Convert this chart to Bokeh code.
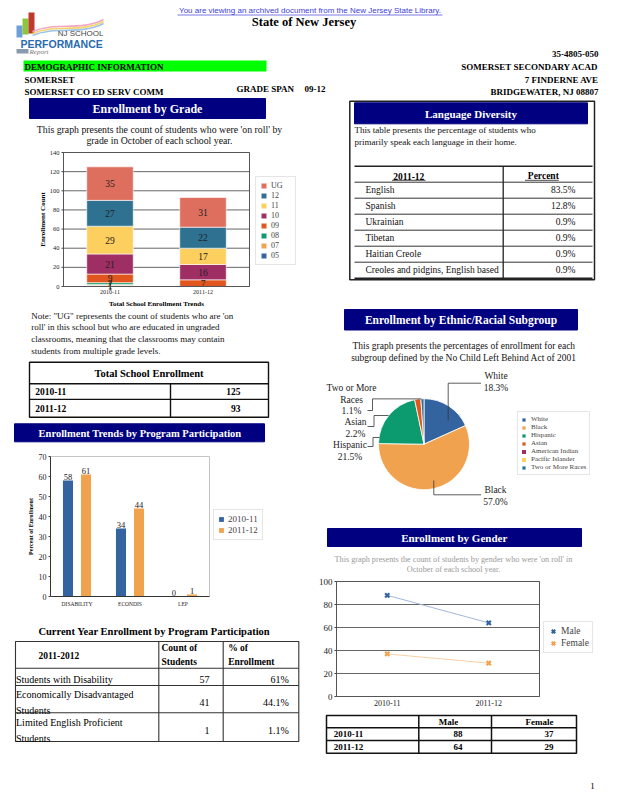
import numpy as np
from math import pi
from bokeh.plotting import figure
from bokeh.models import Range1d, ColumnDataSource, Legend, LegendItem
from bokeh.transform import stack
from bokeh.core.properties import value
from bokeh.embed import file_html
from bokeh.resources import INLINE

SERIF = "Liberation Serif"
SANS = "Liberation Sans"
NAVY = "#000080"

# ---------------- data ----------------
years = ["2010-11", "2011-12"]
grades = ["05", "07", "08", "09", "10", "11", "12", "UG"]
grade_colors = ["#3464A0", "#F0A24F", "#0C9A6F", "#E0561E", "#9E2E64", "#FDCF5E", "#2E7191", "#DE6E5E"]
grade_2010 = [1, 1, 2, 9, 21, 29, 27, 35]
grade_2011 = [0, 0, 0, 7, 16, 17, 22, 31]
grade_ticks = [0, 20, 40, 60, 80, 100, 120, 140]
total_enrollment = [125, 93]

programs = ["DISABILITY", "ECONDIS", "LEP"]
program_2010 = [58, 34, 0]
program_2011 = [61, 44, 1]
program_colors = ["#3464A0", "#F0A24F"]
program_ticks = [0, 10, 20, 30, 40, 50, 60, 70]

current_rows = ["Students with Disability", "Economically Disadvantaged\nStudents",
                "Limited English Proficient\nStudents"]
current_counts = [57, 41, 1]
current_pcts = [61, 44.1, 1.1]

languages = ["English", "Spanish", "Ukrainian", "Tibetan", "Haitian Creole",
             "Creoles and pidgins, English based"]
language_pcts = [83.5, 12.8, 0.9, 0.9, 0.9, 0.9]

ethnic_groups = ["White", "Black", "Hispanic", "Asian", "American Indian",
                 "Pacific Islander", "Two or More Races"]
ethnic_pcts = [18.3, 57.0, 21.5, 2.2, 0.0, 0.0, 1.1]
ethnic_colors = ["#3464A0", "#F0A24F", "#0C9A6F", "#E0561E", "#9E2E64", "#FDCF5E", "#2E7191"]

genders = ["Male", "Female"]
male_counts = [88, 64]
female_counts = [37, 29]
gender_colors = ["#3464A0", "#F0A24F"]
gender_line_colors = ["#a3b8dd", "#f9d0a6"]
gender_ticks = [0, 20, 40, 60, 80, 100]

# ---------------- page canvas (pixel coordinates, y downwards) ----------------
W, H = 610, 792
p = figure(width=W, height=H, x_range=Range1d(0, W), y_range=Range1d(H, 0),
           x_axis_type=None, y_axis_type=None, tools="", toolbar_location=None,
           output_backend="svg", min_border=0)
p.outline_line_color = None
p.background_fill_color = "white"
p.border_fill_color = "white"


def txt(g, xs, ys, texts, size, style="normal", align="left", color="black", font=SERIF, lh=1.2,
        baseline="middle", **kw):
    return g.text(x=list(xs), y=list(ys), text=list(texts), text_font=value(font), text_font_size=size,
                  text_font_style=style, text_align=align, text_baseline=baseline, text_color=color,
                  text_line_height=lh, **kw)


def band(x0, x1, y0, y1, label, size, cx):
    p.quad(left=[x0], right=[x1], top=[y0], bottom=[y1], fill_color=NAVY, line_color=NAVY)
    txt(p, [cx], [(y0 + y1) / 2 + 0.5], [label], size, "bold", "center", "white")


def hlines(x0, x1, ys, color="#222", width=1.0):
    p.multi_line(xs=[[x0, x1] for _ in ys], ys=[[y, y] for y in ys], line_color=color, line_width=width)


def vlines(xs, y0, y1, color="#222", width=1.0):
    p.multi_line(xs=[[x, x] for x in xs], ys=[[y0, y1] for _ in xs], line_color=color, line_width=width)


def sub_plot(box, ncat, ymax):
    """Sub-coordinate system: x = category slots 0..ncat, y = value 0..ymax."""
    x0, x1, y0, y1 = box
    return p.subplot(x_source=Range1d(0, ncat), y_source=Range1d(0, ymax),
                     x_target=Range1d(x0, x1), y_target=Range1d(y1, y0))


def legend_style(leg, size, glyph, lh, spacing, padding, standoff=4):
    leg.label_text_font = SERIF
    leg.label_text_font_size = size
    leg.glyph_width = glyph
    leg.glyph_height = glyph
    leg.label_height = lh
    leg.label_standoff = standoff
    leg.spacing = spacing
    leg.padding = padding
    leg.margin = 0
    leg.border_line_color = "#cccccc"
    leg.background_fill_color = "white"


def y_axis(sp, ticks, size, label=None, label_offset=0, label_size="7px", tick_len=2):
    sp.ray(x=[0] * len(ticks), y=ticks, length=tick_len, length_units="screen", angle=pi,
           line_color="#444444", line_width=1)
    txt(sp, [0] * len(ticks), ticks, [str(t) for t in ticks], size, align="right", color="#222222",
        x_offset=-(tick_len + 2))
    if label:
        txt(sp, [0], [ticks[-1] / 2], [label], label_size, "bold", "center", angle=pi / 2,
            x_offset=label_offset)


def slots(cats):
    return [i + 0.5 for i in range(len(cats))]


# ---------------- header ----------------
link = "You are viewing an archived document from the New Jersey State Library."
txt(p, [309.5], [10], [link], "8px", align="center", color="#4040d8", font=SANS)
p.segment(x0=[177], y0=[14.5], x1=[442], y1=[14.5], line_color="#4040d8", line_width=0.7)
txt(p, [303.5], [21.5], ["State of New Jersey"], "12.5px", "bold", "center")
# logo
p.quad(left=[16, 22, 28], right=[22, 28, 34], top=[25, 18, 12], bottom=[37, 34, 33],
       fill_color=["#6f9fd8", "#8cc63e", "#c0392b"], line_color=None)
p.bezier(x0=[32, 32, 32], y0=[31, 33, 35], x1=[103, 103, 103], y1=[19, 21, 23],
         cx0=[55, 55, 55], cy0=[21, 23, 25], cx1=[80, 80, 80], cy1=[31, 33, 35],
         line_color=["#f2a7c3", "#f5d46c", "#9cc3e6"], line_width=1.6)
txt(p, [103], [33], ["NJ SCHOOL"], "8px", align="right", color="#444444", font=SANS)
txt(p, [20], [43], ["PERFORMANCE"], "10.5px", "bold", color="#2a6ab0", font=SANS)
p.quad(left=[16], right=[28], top=[48.5], bottom=[53], fill_color="#8a9bb0", line_color=None)
txt(p, [29], [51.5], ["Report"], "7px", "italic", color="#777777")
# info block
p.quad(left=[23], right=[266], top=[60], bottom=[71], fill_color="#00ff00", line_color=None)
txt(p, [24, 24, 24], [66, 79, 91.5],
    ["DEMOGRAPHIC INFORMATION", "SOMERSET", "SOMERSET CO ED SERV COMM"], "9px", "bold")
txt(p, [236, 304], [88, 88], ["GRADE SPAN", "09-12"], "9px", "bold")
txt(p, [598] * 4, [53, 66, 79, 91.5],
    ["35-4805-050", "SOMERSET SECONDARY ACAD", "7 FINDERNE AVE", "BRIDGEWATER, NJ 08807"],
    "9px", "bold", "right")

# ---------------- enrollment by grade ----------------
band(29, 265, 98, 118, "Enrollment by Grade", "12px", 147)
txt(p, [159, 159], [128.5, 139.5],
    ["This graph presents the count of students who were 'on roll' by",
     "grade in October of each school year."], "9.8px", align="center", color="#111111")

box1 = (63, 249, 152, 286)
n1 = len(years)
s1 = sub_plot(box1, n1, grade_ticks[-1])
s1.multi_line(xs=[[0, n1] for _ in grade_ticks], ys=[[t, t] for t in grade_ticks],
              line_color="#666666", line_width=1)
src1 = ColumnDataSource(dict(xc=slots(years), **{g: [a, b] for g, a, b in zip(grades, grade_2010, grade_2011)}))
r1 = []
for i, g in enumerate(grades):
    bottom = stack(*grades[:i]) if i else 0
    r1.append(s1.vbar(x="xc", bottom=bottom, top=stack(*grades[:i + 1]), width=0.5, source=src1,
                      fill_color=grade_colors[i], line_color="white", line_width=0.6))
lx, ly, lt = [], [], []
for xc, vals in zip(slots(years), (grade_2010, grade_2011)):
    base = 0
    for v in vals:
        if v:
            lx.append(xc)
            ly.append(base + v / 2)
            lt.append(str(v))
        base += v
txt(s1, lx, ly, lt, "9.5px", align="center", color="#222222")
s1.quad(left=[0], right=[n1], bottom=[0], top=[grade_ticks[-1]], fill_color=None, line_color="#555555")
y_axis(s1, grade_ticks, "6.5px", "Enrollment Count", -21, "7px")
txt(s1, slots(years), [0] * n1, years, "6px", align="center", baseline="top", y_offset=3, color="#222222")
txt(s1, [n1 / 2], [0], ["Total School Enrollment Trends"], "7px", "bold", "center", y_offset=17)
leg1 = Legend(items=[LegendItem(label=g, renderers=[r]) for g, r in zip(grades[::-1], r1[::-1])],
              location=(255, H - 265))
legend_style(leg1, "8px", 7, 8, 1, 4)
p.add_layout(leg1)

txt(p, [30.7] * 4, [315, 326.8, 338.8, 350.6],
    ["Note: \"UG\" represents the count of students who are 'on",
     "roll' in this school but who are educated in ungraded",
     "classrooms, meaning that the classrooms may contain",
     "students from multiple grade levels."], "9px", color="#111111")

# total enrollment table
p.quad(left=[29], right=[268], top=[361.7], bottom=[416.7], fill_color=None, line_color="#111111",
       line_width=1.4)
hlines(29, 268, [383.3, 398.9], "#111111", 1.4)
vlines([170], 383.3, 416.7, "#111111", 1.4)
txt(p, [148.5], [372.5], ["Total School Enrollment"], "10.5px", "bold", "center")
txt(p, [34.7, 34.7], [391.2, 408], years, "9.5px", "bold")
txt(p, [240, 240], [391.2, 408], [str(v) for v in total_enrollment], "9.5px", "bold", "right")

# ---------------- program participation ----------------
band(14, 264, 423.3, 441.3, "Enrollment Trends by Program Participation", "10.5px", 139.5)
box2 = (50, 209, 456, 596)
n2 = len(programs)
s2 = sub_plot(box2, n2, program_ticks[-1])
dodge_off = 0.17
src2 = ColumnDataSource(dict(xa=[x - dodge_off for x in slots(programs)], xb=[x + dodge_off for x in slots(programs)],
                             a=program_2010, b=program_2011,
                             ta=[str(v) for v in program_2010], tb=[str(v) for v in program_2011]))
ra = s2.vbar(x="xa", top="a", width=0.19, source=src2, fill_color=program_colors[0], line_color=None)
rb = s2.vbar(x="xb", top="b", width=0.19, source=src2, fill_color=program_colors[1], line_color=None)
for col in ("a", "b"):
    s2.text(x="x" + col, y=col, text="t" + col, source=src2,
            text_font=value(SERIF), text_font_size="8.5px", text_align="center",
            text_baseline="bottom", y_offset=-1, text_color="#222222")
s2.multi_line(xs=[[0, n2], [n2, n2]], ys=[[program_ticks[-1]] * 2, [0, program_ticks[-1]]],
              line_color="#c4c4c4", line_width=1)
s2.multi_line(xs=[[0, 0], [0, n2]], ys=[[0, program_ticks[-1]], [0, 0]], line_color="#333333",
              line_width=1)
y_axis(s2, program_ticks, "8px", "Percent of Enrollment", -19.5, "6px")
txt(s2, slots(programs), [0] * n2, programs, "5.5px", align="center", baseline="top", y_offset=4,
    color="#222222")
leg2 = Legend(items=[LegendItem(label=years[0], renderers=[ra]), LegendItem(label=years[1], renderers=[rb])],
              location=(213, H - 540))
legend_style(leg2, "9px", 6, 9, 1, 4)
p.add_layout(leg2)

# current year table
txt(p, [153.8], [630.7], ["Current Year Enrollment by Program Participation"], "10.5px", "bold", "center")
row_edges = [641, 667.7, 685, 712.3, 741]
p.quad(left=[15], right=[298.3], top=[641], bottom=[741], fill_color=None, line_color="#333333",
       line_width=1.1)
hlines(15, 298.3, row_edges[1:4], "#333333", 1.1)
vlines([158.3, 222.7], 641, 741, "#333333", 1.1)
txt(p, [38], [654.5], ["2011-2012"], "9.5px", "bold")
txt(p, [161, 227.7], [654.5, 654.5], ["Count of\nStudents", "% of\nEnrollment"], "9.5px", "bold", lh=1.45)
row_mid = [(row_edges[i + 1] + row_edges[i + 2]) / 2 + 3 for i in range(3)]
txt(p, [15.5] * 3, row_mid, current_rows, "10px", lh=1.45)
txt(p, [209] * 3, row_mid, [str(v) for v in current_counts], "10px", align="right")
txt(p, [288.3] * 3, row_mid, [f"{v:g}%" for v in current_pcts], "10px", align="right")

# ---------------- language diversity ----------------
p.quad(left=[349.3], right=[594], top=[100.7], bottom=[279.3], fill_color=None, line_color="#222222",
       line_width=1.5)
band(354, 587, 102.3, 123.3, "Language Diversity", "11px", 470.5)
txt(p, [354, 354], [129.5, 141.7],
    ["This table presents the percentage of students who",
     "primarily speak each language in their home."], "9px", color="#111111")
hlines(354, 592, [165.7, 277.7], "#222222", 1.6)
lang_lines = [181.7 + 16 * i for i in range(6)]
hlines(354, 592, lang_lines, "#333333", 1.0)
vlines([502.7], 165.7, 277.7, "#222222", 1.3)
txt(p, [408.3], [175.5], ["2011-12"], "9.5px", "bold", "center")
txt(p, [558.3], [175.5], ["Percent"], "9.5px", "bold", "right")
p.segment(x0=[391.5, 524.5], y0=[179.8, 179.8], x1=[425, 558.3], y1=[179.8, 179.8],
          line_color="black", line_width=0.7)
lang_mid = [y + 8 for y in lang_lines]
txt(p, [365] * 6, lang_mid, languages, "9.5px", color="#111111")
txt(p, [575] * 6, lang_mid, [f"{v:.1f}%" for v in language_pcts], "9.5px", align="right", color="#111111")

# ---------------- ethnic pie ----------------
band(344, 577, 309, 329.5, "Enrollment by Ethnic/Racial Subgroup", "11.5px", 460.5)
txt(p, [463.3, 463.3], [345, 357.3],
    ["This graph presents the percentages of enrollment for each",
     "subgroup defined by the No Child Left Behind Act of 2001"], "9.5px", align="center", color="#111111")
frac = np.array(ethnic_pcts) / sum(ethnic_pcts)
cum = np.concatenate([[0.0], np.cumsum(frac)])
starts = pi / 2 - 2 * pi * cum[:-1]
ends = pi / 2 - 2 * pi * cum[1:]
PIE_R = 45.5
pie_items = []
for i, (g, v, c) in enumerate(zip(ethnic_groups, ethnic_pcts, ethnic_colors)):
    # an empty subgroup gets an empty (zero-radius) slice but keeps its legend entry
    src = ColumnDataSource(dict(start=[starts[i]], end=[ends[i]], r=[PIE_R if v > 0 else 0.0]))
    wr = p.wedge(x=423.5, y=443.7, radius="r", start_angle="start", end_angle="end", direction="clock",
                 fill_color=c, line_color="white" if v > 0 else None, line_width=0.8, source=src)
    pie_items.append(LegendItem(label=g, renderers=[wr]))
legp = Legend(items=pie_items, location=(517, H - 475))
legend_style(legp, "7px", 5, 7, 0, 3, 5)
p.add_layout(legp)
label_names = {"Two or More Races": "Two or More\nRaces"}
label_pos = {"White": (495.5, 381.7), "Black": (495, 495.5), "Hispanic": (349.5, 450.3),
             "Asian": (355, 427.5), "Two or More Races": (351, 399.2)}
pl_x, pl_y, pl_t = [], [], []
for g, v in zip(ethnic_groups, ethnic_pcts):
    if v > 0:
        pl_x.append(label_pos[g][0])
        pl_y.append(label_pos[g][1])
        pl_t.append(f"{label_names.get(g, g)}\n{v:.1f}%")
txt(p, pl_x, pl_y, pl_t, "9.5px", align="center", color="#222222", lh=1.15)
p.multi_line(xs=[[447.7, 447.7, 480.5], [433.3, 433.3, 480.5], [421, 372, 372, 367],
                 [388, 373.5, 373.5, 367], [379, 372.5, 372.5, 367]],
             ys=[[420, 382.7, 382.7], [480, 494.3, 494.3], [398.4, 398.4, 410, 410],
                 [415, 415, 426, 426], [437, 437, 446, 446]],
             line_color="#333333", line_width=0.8)

# ---------------- gender ----------------
band(327, 581, 528, 546, "Enrollment by Gender", "11px", 453.7)
txt(p, [453, 453], [559, 569.2],
    ["This graph presents the count of students by gender who were 'on roll' in",
     "October of each school year."], "8.2px", align="center", color="#9a9a9a")
box3 = (336, 539, 581, 696)
n3 = len(years)
s3 = sub_plot(box3, n3, gender_ticks[-1])
s3.multi_line(xs=[[0, n3] for _ in gender_ticks], ys=[[t, t] for t in gender_ticks],
              line_color="#666666", line_width=1)
s3.quad(left=[0], right=[n3], bottom=[0], top=[gender_ticks[-1]], fill_color=None, line_color="#555555")
gl_items = []
for name, vals, c, lc in zip(genders, (male_counts, female_counts), gender_colors, gender_line_colors):
    s3.line(slots(years), vals, line_color=lc, line_width=1)
    sr = s3.scatter(slots(years), vals, marker="x", size=6, line_color=c, line_width=2.2)
    gl_items.append(LegendItem(label=name, renderers=[sr]))
y_axis(s3, gender_ticks, "9px")
txt(s3, slots(years), [0] * n3, years, "8px", align="center", baseline="top", y_offset=3, color="#222222")
leg3 = Legend(items=gl_items, location=(543, H - 653))
legend_style(leg3, "9.5px", 12, 10, 0, 3, 2)
p.add_layout(leg3)

# gender table
p.quad(left=[326], right=[576], top=[715], bottom=[752.7], fill_color=None, line_color="#111111",
       line_width=1.5)
hlines(326, 576, [727.3, 740], "#111111", 1.5)
vlines([418.3, 491], 715, 752.7, "#111111", 1.5)
txt(p, [448, 539], [721.2, 721.2], genders, "9px", "bold", "center")
txt(p, [333.3, 333.3], [733.7, 746.4], years, "9px", "bold")
txt(p, [462, 462], [733.7, 746.4], [str(v) for v in male_counts], "9px", "bold", "right")
txt(p, [553, 553], [733.7, 746.4], [str(v) for v in female_counts], "9px", "bold", "right")
txt(p, [592], [785], ["1"], "9px", align="center")

open("out.html", "w").write(file_html(p, INLINE, "School Performance Report"))
